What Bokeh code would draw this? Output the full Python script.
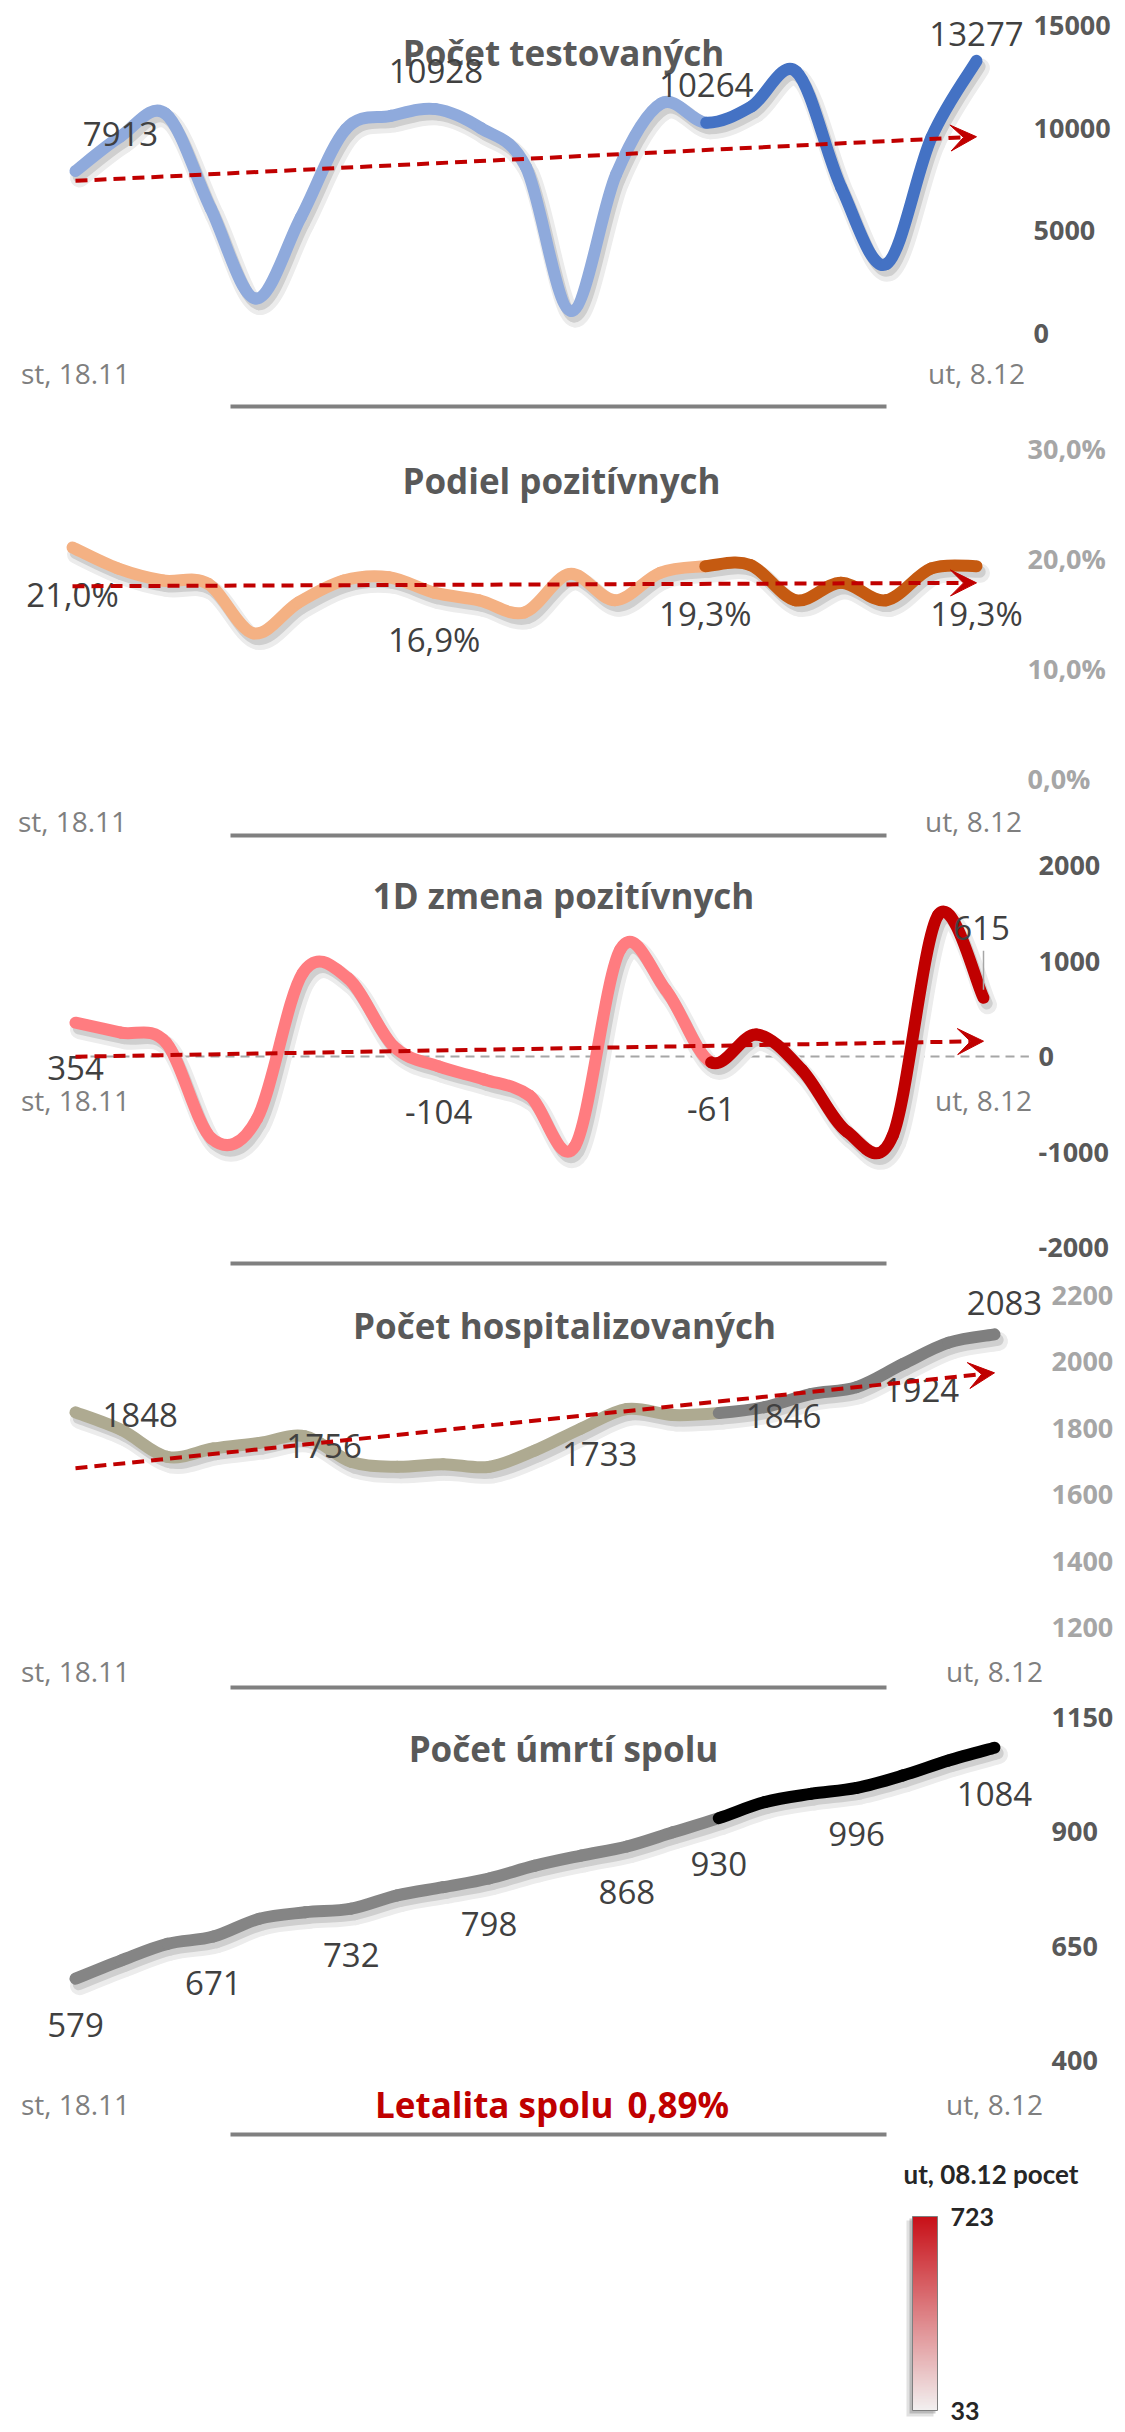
import numpy as np
from bokeh.plotting import figure
from bokeh.models import (Range1d, FixedTicker, ColumnDataSource, Arrow, VeeHead,
                          Spacer, LinearColorMapper)
from bokeh.layouts import column, row
from bokeh.embed import file_html
from bokeh.resources import INLINE
from bokeh.core.properties import value

# ---------------- data ----------------
days = ["18.11", "19.11", "20.11", "21.11", "22.11", "23.11", "24.11", "25.11", "26.11",
        "27.11", "28.11", "29.11", "30.11", "1.12", "2.12", "3.12", "4.12", "5.12",
        "6.12", "7.12", "8.12"]
end_labels = ["st, 18.11", "ut, 8.12"]
last_week_start = 14  # 2.12

tested = [7913, 9600, 10700, 6100, 1700, 5650, 9950, 10600, 10928, 10000, 8100,
          1100, 7750, 11200, 10264, 11050, 12750, 7100, 3380, 9550, 13277]
positive_share = [21.0, 19.1, 18.0, 17.7, 13.2, 16.0, 18.0, 18.3, 16.9, 16.2, 15.1,
                  18.6, 16.2, 18.7, 19.3, 19.4, 16.2, 17.8, 16.2, 19.1, 19.3]
positive_change = [354, 250, 143, -860, -650, 870, 820, 110, -104, -240, -410,
                   -940, 1120, 700, -61, 230, -140, -790, -830, 1480, 615]
hospitalized = [1848, 1795, 1714, 1739, 1756, 1776, 1699, 1684, 1692, 1684, 1733,
                1799, 1858, 1840, 1846, 1864, 1903, 1924, 1993, 2058, 2083]
deaths = [579, 619, 655, 671, 710, 724, 732, 761, 779, 798, 826,
          848, 868, 899, 930, 965, 983, 996, 1023, 1056, 1084]

tested_ticks = [0, 5000, 10000, 15000]
share_ticks = [0, 10, 20, 30]
change_ticks = [-2000, -1000, 0, 1000, 2000]
hosp_ticks = [1200, 1400, 1600, 1800, 2000, 2200]
death_ticks = [400, 650, 900, 1150]

tested_label_idx = [0, 8, 14, 20]
share_label_idx = [0, 8, 14, 20]
change_label_idx = [0, 8, 14, 20]
hosp_label_idx = [0, 4, 10, 14, 17, 20]
death_label_idx = [0, 3, 6, 9, 12, 14, 17, 20]

titles = ["Počet testovaných", "Podiel pozitívnych", "1D zmena pozitívnych",
          "Počet hospitalizovaných", "Počet úmrtí spolu"]
lethality_label = "Letalita spolu"
lethality_value = "0,89%"
legend_title = "ut, 08.12 pocet"
legend_low, legend_high = 33, 723

# ---------------- layout / style ----------------
W = 1125
FRAME_RIGHT = 1048          # same for every panel (Bokeh aligns frames in a column)
RED = "#c00000"
FONT = "Open Sans"
LABEL_COLOR = "#404040"
TITLE_COLOR = "#595959"
CAT_COLOR = "#7f7f7f"
SEP_COLOR = "#808080"


def fmt_int(v):
    return str(int(round(v)))


def fmt_pct(v):
    return ("%.1f" % v).replace(".", ",") + "%"


def make_panel(top, bottom, x_first, x_last, calib, ticks, tick_fmt,
               tick_color, label_left, sep_y):
    (va, pa), (vb, pb) = calib
    k = (vb - va) / (pb - pa)

    def vy(py):
        return va + (py - pa) * k

    ppd = (x_last - x_first) / 20.0

    def vx(px):
        return (px - x_first) / ppd

    p = figure(width=W, height=bottom - top, output_backend="svg", toolbar_location=None,
               x_range=Range1d(vx(0), vx(FRAME_RIGHT)),
               y_range=Range1d(vy(bottom), vy(top)),
               y_axis_location="right", x_axis_location=None,
               min_border_left=0, min_border_top=0, min_border_bottom=0,
               min_border_right=W - FRAME_RIGHT)
    p.outline_line_color = None
    p.grid.grid_line_color = None
    p.background_fill_color = "white"
    p.border_fill_color = "white"
    ax = p.yaxis[0]
    ax.ticker = FixedTicker(ticks=ticks)
    ax.major_label_overrides = {t: tick_fmt(t) for t in ticks}
    ax.axis_line_color = None
    ax.major_tick_line_color = None
    ax.minor_tick_line_color = None
    ax.major_tick_out = 0
    ax.major_tick_in = 0
    ax.major_label_standoff = int(label_left - FRAME_RIGHT)
    ax.major_label_text_font = FONT
    ax.major_label_text_font_style = "bold"
    ax.major_label_text_font_size = "27px"
    ax.major_label_text_color = tick_color
    # separator bar under the panel
    p.segment(x0=[vx(230)], y0=[vy(sep_y)], x1=[vx(886)], y1=[vy(sep_y)],
              line_color=SEP_COLOR, line_width=4)
    return p, vx, vy, ppd, k


def bez_source(vals, i0, i1, dx=0.0, dy=0.0):
    x = np.arange(len(vals), dtype=float)
    y = np.asarray(vals, dtype=float)
    n = len(x)
    d = dict(x0=[], y0=[], x1=[], y1=[], cx0=[], cy0=[], cx1=[], cy1=[])
    for i in range(i0, i1):
        a = max(i - 1, 0)
        b = min(i + 2, n - 1)
        d["x0"].append(x[i] + dx)
        d["y0"].append(y[i] + dy)
        d["x1"].append(x[i + 1] + dx)
        d["y1"].append(y[i + 1] + dy)
        d["cx0"].append(x[i] + (x[i + 1] - x[a]) / 6 + dx)
        d["cy0"].append(y[i] + (y[i + 1] - y[a]) / 6 + dy)
        d["cx1"].append(x[i + 1] - (x[b] - x[i]) / 6 + dx)
        d["cy1"].append(y[i + 1] - (y[b] - y[i]) / 6 + dy)
    return ColumnDataSource(d)


BZ = dict(x0="x0", y0="y0", x1="x1", y1="y1", cx0="cx0", cy0="cy0", cx1="cx1", cy1="cy1")


def draw_series(p, vals, light, dark, ppd, k):
    n = len(vals)
    sdx, sdy = 4.0 / ppd, 7.0 * k
    p.bezier(source=bez_source(vals, 0, n - 1, sdx, sdy), line_color="#ececec",
             line_width=19, line_cap="round", **BZ)
    p.bezier(source=bez_source(vals, 0, n - 1, sdx * 0.8, sdy * 0.8), line_color="#cfcfcf",
             line_width=12, line_cap="round", **BZ)
    p.bezier(source=bez_source(vals, 0, last_week_start), line_color=light,
             line_width=12, line_cap="round", **BZ)
    p.bezier(source=bez_source(vals, last_week_start, n - 1), line_color=dark,
             line_width=12, line_cap="round", **BZ)


def draw_trend(p, vals):
    x = np.arange(len(vals), dtype=float)
    c = np.polyfit(x, np.asarray(vals, dtype=float), 1)
    p.add_layout(Arrow(end=VeeHead(size=26, fill_color=RED, line_color=RED, line_width=1),
                       x_start=float(x[0]), y_start=float(np.polyval(c, x[0])),
                       x_end=float(x[-1]), y_end=float(np.polyval(c, x[-1])),
                       line_color=RED, line_width=4, line_dash="12 7"))


def draw_labels(p, vals, idx, fmt, x_off, y_off, align="center"):
    src = ColumnDataSource(dict(x=list(idx), y=[vals[i] for i in idx],
                                t=[fmt(vals[i]) for i in idx], xo=x_off, yo=y_off))
    p.text(x="x", y="y", text="t", x_offset="xo", y_offset="yo", source=src,
           text_align=align, text_baseline="middle", text_font=value(FONT),
           text_font_size="33px", text_color=LABEL_COLOR)


def draw_cat_labels(p, base, n, off, right_shift=0):
    src = ColumnDataSource(dict(x=[0, n - 1], y=[base, base], t=end_labels,
                                xo=[0, right_shift]))
    p.text(x="x", y="y", text="t", x_offset="xo", y_offset=off, source=src,
           text_align="center", text_baseline="middle", text_font=value(FONT),
           text_font_size="28px", text_color=CAT_COLOR)


def draw_title(p, vx, vy, text, cx, cy, color=TITLE_COLOR, size="35px", align="center"):
    p.text(x=[vx(cx)], y=[vy(cy)], text=[text], text_align=align,
           text_baseline="middle", text_font=value(FONT), text_font_style="bold",
           text_font_size=size, text_color=color)


n = len(days)

# ---- panel 1: tested ----
p1, vx, vy, ppd, k = make_panel(0, 420, 75, 976, ((15000, 25), (0, 333)),
                                tested_ticks, fmt_int, "#595959", 1033, 406)
draw_series(p1, tested, "#8faadc", "#4472c4", ppd, k)
draw_trend(p1, tested)
draw_title(p1, vx, vy, titles[0], 563, 52)
draw_labels(p1, tested, tested_label_idx[:1], fmt_int, [45], [-37])
draw_labels(p1, tested, tested_label_idx[1:3], fmt_int, [0, 0], [-38, -38])
draw_labels(p1, tested, tested_label_idx[3:], fmt_int, [0], [-27])
draw_cat_labels(p1, tested_ticks[0], n, 39)

# ---- panel 2: share positive ----
p2, vx, vy, ppd, k = make_panel(420, 843, 72, 976, ((30, 448), (0, 778)),
                                share_ticks, fmt_pct, "#a6a6a6", 1027, 835)
draw_series(p2, positive_share, "#f4b183", "#c55a11", ppd, k)
draw_trend(p2, positive_share)
draw_title(p2, vx, vy, titles[1], 561, 480)
draw_labels(p2, positive_share, share_label_idx, fmt_pct, [0] * 4, [47] * 4)
draw_cat_labels(p2, share_ticks[0], n, 42, right_shift=-3)

# ---- panel 3: 1D change ----
p3, vx, vy, ppd, k = make_panel(843, 1272, 75, 983, ((2000, 865), (-2000, 1247)),
                                change_ticks, fmt_int, "#595959", 1038, 1263)
p3.segment(x0=[0], y0=[0], x1=[n], y1=[0], line_color="#a6a6a6", line_width=2,
           line_dash="9 6")
draw_series(p3, positive_change, "#ff7c80", RED, ppd, k)
draw_trend(p3, positive_change)
draw_title(p3, vx, vy, titles[2], 563, 895)
draw_labels(p3, positive_change, change_label_idx[:3], fmt_int, [0, 0, 0], [45, 46, 47])
draw_labels(p3, positive_change, change_label_idx[3:], fmt_int, [-2], [-70])
lead_v = positive_change[change_label_idx[3]]
p3.segment(x0=[change_label_idx[3]], y0=[lead_v - 8 * k], x1=[change_label_idx[3]],
           y1=[lead_v - 47 * k], line_color="#a6a6a6", line_width=1.5)
draw_cat_labels(p3, 0, n, 43)

# ---- panel 4: hospitalized ----
p4, vx, vy, ppd, k = make_panel(1272, 1695, 75, 994, ((2200, 1295), (1200, 1627)),
                                hosp_ticks, fmt_int, "#a6a6a6", 1051, 1687)
draw_series(p4, hospitalized, "#aeaa91", "#7f7f7f", ppd, k)
draw_trend(p4, hospitalized)
draw_title(p4, vx, vy, titles[3], 564, 1325)
draw_labels(p4, hospitalized, hosp_label_idx[:-1], fmt_int, [27] * 5, [3] * 5, align="left")
draw_labels(p4, hospitalized, hosp_label_idx[-1:], fmt_int, [10], [-31])
draw_cat_labels(p4, hosp_ticks[0], n, 43)

# ---- panel 5: deaths ----
p5, vx, vy, ppd, k = make_panel(1695, 2145, 75, 994, ((1150, 1717), (400, 2060)),
                                death_ticks, fmt_int, "#595959", 1051, 2134)
draw_series(p5, deaths, "#858585", "#000000", ppd, k)
draw_title(p5, vx, vy, titles[4], 563, 1748)
draw_labels(p5, deaths, death_label_idx, fmt_int, [0] * len(death_label_idx),
            [46] * len(death_label_idx))
draw_cat_labels(p5, death_ticks[0], n, 43)
draw_title(p5, vx, vy, lethality_label, 613, 2104, color=RED, align="right")
draw_title(p5, vx, vy, lethality_value, 627, 2104, color=RED, align="left")

# ---- legend colour bar (one figure; x in page px, y in legend values) ----
LEG_LEFT, LEG_TOP, LEG_BOTTOM = 895, 2145, 2432
BAR_TOP, BAR_BOTTOM, BAR_LEFT, BAR_W = 2216, 2410, 912, 25
kl = (legend_low - legend_high) / (BAR_BOTTOM - BAR_TOP)


def lvy(py):
    return legend_high + (py - BAR_TOP) * kl


lo_rgb, hi_rgb = (242, 240, 240), (200, 16, 24)
pal = ["#%02x%02x%02x" % tuple(int(round(a + (b - a) * t)) for a, b in zip(lo_rgb, hi_rgb))
       for t in np.linspace(0, 1, 256)]
mapper = LinearColorMapper(palette=pal, low=legend_low, high=legend_high)
lg = figure(width=W - LEG_LEFT, height=LEG_BOTTOM - LEG_TOP, output_backend="svg",
            toolbar_location=None, x_range=Range1d(LEG_LEFT, W),
            y_range=Range1d(lvy(LEG_BOTTOM), lvy(LEG_TOP)),
            x_axis_location=None, y_axis_location=None,
            min_border_left=0, min_border_right=0, min_border_top=0, min_border_bottom=0)
lg.outline_line_color = None
lg.grid.grid_line_color = None
# soft shadow
lg.quad(left=[BAR_LEFT - 6], right=[BAR_LEFT + BAR_W - 4], bottom=[lvy(BAR_BOTTOM + 6)],
        top=[lvy(BAR_TOP + 4)], fill_color="#bdbdbd", fill_alpha=0.45, line_color=None)
lg.quad(left=[BAR_LEFT - 3], right=[BAR_LEFT + BAR_W - 2], bottom=[lvy(BAR_BOTTOM + 3)],
        top=[lvy(BAR_TOP + 2)], fill_color="#8a8a8a", fill_alpha=0.45, line_color=None)
lg.image(image=[np.linspace(legend_low, legend_high, 256).reshape(-1, 1)], x=BAR_LEFT,
         y=legend_low, dw=BAR_W, dh=legend_high - legend_low, color_mapper=mapper)
lg.quad(left=[BAR_LEFT], right=[BAR_LEFT + BAR_W], bottom=[legend_low], top=[legend_high],
        fill_color=None, line_color="#7f7f7f", line_width=1)
lg.text(x=[BAR_LEFT + BAR_W + 13] * 2, y=[legend_high, legend_low],
        text=[str(legend_high), str(legend_low)], text_align="left", text_baseline="middle",
        text_font=value("Lato"), text_font_style="bold", text_font_size="25px",
        text_color="#262626")
lg.text(x=[903], y=[lvy(2173)], text=[legend_title], text_align="left",
        text_baseline="middle", text_font=value("Lato"), text_font_style="bold",
        text_font_size="26px", text_color="#262626")

layout = column(p1, p2, p3, p4, p5,
                row(Spacer(width=LEG_LEFT, height=LEG_BOTTOM - LEG_TOP), lg))

open("out.html", "w").write(file_html(layout, INLINE))
